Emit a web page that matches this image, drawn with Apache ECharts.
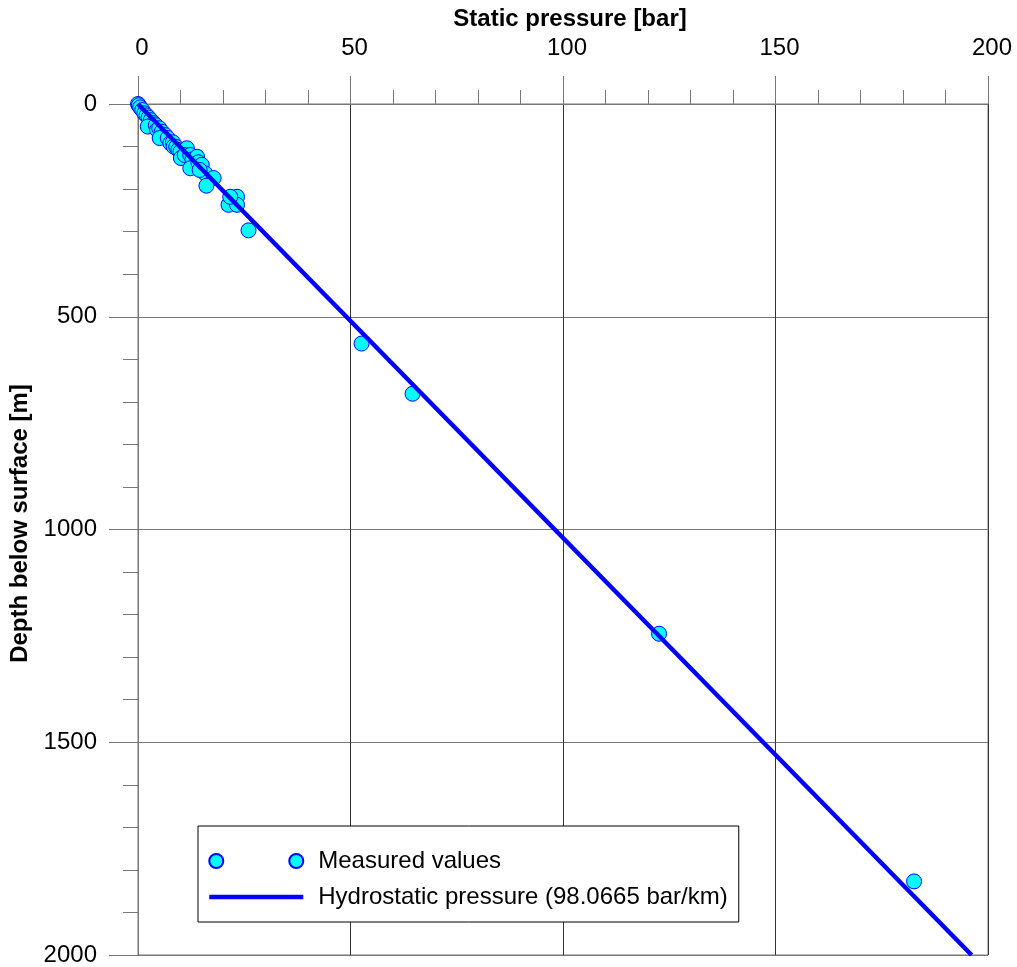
<!DOCTYPE html>
<html>
<head>
<meta charset="utf-8">
<script src="https://cdn.jsdelivr.net/npm/echarts@6/dist/echarts.min.js"></script>
<style>
html,body{margin:0;padding:0;background:#fff;}
#main{width:1017px;height:967px;}
</style>
</head>
<body>
<div id="main"></div>
<script>
// measured static pressure [bar] vs depth [m]
var pressure = [0, 0.2, 0.5, 1, 1.5, 2, 2.5, 3, 3.7, 2.3, 4.2, 4.5, 5, 5.6, 6.4, 5.1, 7, 7.6, 8.2, 8.4, 9, 9.5, 10, 11.5, 10.1, 11, 12.3, 12.8, 13.9, 12.3, 14.2, 15, 15.8, 14.5, 17.8, 16.1, 21.3, 23.3, 23.3, 21.7, 26, 52.6, 64.6, 122.6, 182.6]
var depth = [0, 3, 8, 14, 22, 27, 32, 38, 45, 53, 50, 61, 57, 65, 73, 80, 80, 92, 90, 100, 101, 108, 112, 104, 127, 120, 120, 130, 124, 151, 137, 143, 163, 155, 174, 192, 237, 218, 237, 218, 297, 563, 681, 1245, 1827]
// hydrostatic line 98.0665 bar/km
var linePressure = [0, 196.133]
var lineDepth = [0, 2000]
var xTicks = [0, 50, 100, 150, 200]
var yTicks = [0, 500, 1000, 1500, 2000]

var nameMeasured = 'Measured values'
var nameHydro = 'Hydrostatic pressure (98.0665 bar/km)'

var measuredData = []
for (var i = 0; i < pressure.length; i++) {
    measuredData.push([pressure[i], depth[i]])
}
var hydroData = []
for (var j = 0; j < linePressure.length; j++) {
    hydroData.push([linePressure[j], lineDepth[j]])
}

var axisGray = '#777'
var myChart = echarts.init(document.getElementById('main'))
var option = {
    animation: false,
    textStyle: {fontFamily: 'Liberation Sans, Arial, sans-serif'},
    grid: {
        left: 138, top: 104, right: 29, bottom: 11,
        show: true, borderColor: axisGray, borderWidth: 1
    },
    legend: {
        orient: 'vertical',
        left: 198, top: 826,
        padding: [23, 11, 13, 9],
        itemGap: 12,
        itemWidth: 94,
        itemHeight: 14,
        backgroundColor: '#fff',
        borderColor: '#000',
        borderWidth: 1,
        borderRadius: 0,
        textStyle: {fontSize: 24, color: '#000', padding: [0, 0, 0, 10]},
        data: [
            {name: nameMeasured, icon: 'path://M0,7A7,7 0 1,1 14,7A7,7 0 1,1 0,7Z M80,7A7,7 0 1,1 94,7A7,7 0 1,1 80,7Z'},
            {name: nameHydro, itemStyle: {opacity: 0, borderWidth: 0}, lineStyle: {width: 4.5, color: '#0000ff'}}
        ]
    },
    xAxis: {
        type: 'value',
        position: 'top',
        min: xTicks[0], max: xTicks[xTicks.length - 1], interval: 50,
        name: 'Static pressure [bar]',
        nameLocation: 'middle',
        nameGap: 73,
        nameTextStyle: {fontSize: 24, fontWeight: 'bold', color: '#000', padding: [0, 0, 0, 14]},
        axisLine: {show: true, lineStyle: {color: axisGray, width: 1}},
        axisTick: {show: true, length: 28, lineStyle: {color: axisGray}},
        minorTick: {show: true, splitNumber: 5, length: 14, lineStyle: {color: axisGray}},
        axisLabel: {fontSize: 24, color: '#000', margin: 44, padding: [0, 0, 0, 8], formatter: function (v) { return String(v) }},
        splitLine: {show: true, lineStyle: {color: '#333', width: 1}}
    },
    yAxis: {
        type: 'value',
        inverse: true,
        min: yTicks[0], max: yTicks[yTicks.length - 1], interval: 500,
        name: 'Depth below surface [m]',
        nameLocation: 'middle',
        nameGap: 86,
        nameTextStyle: {fontSize: 24, fontWeight: 'bold', color: '#000', padding: [0, 0, 0, 12]},
        axisLine: {show: true, lineStyle: {color: axisGray, width: 1}},
        axisTick: {show: true, length: 29, lineStyle: {color: axisGray}},
        minorTick: {show: true, splitNumber: 5, length: 15, lineStyle: {color: axisGray}},
        axisLabel: {fontSize: 24, color: '#000', margin: 41, formatter: function (v) { return String(v) }},
        splitLine: {show: true, lineStyle: {color: axisGray, width: 1}}
    },
    series: [
        {
            name: nameHydro,
            type: 'line',
            data: hydroData,
            symbol: 'none',
            clip: false,
            z: 3,
            lineStyle: {color: '#0000ff', width: 4.5},
            itemStyle: {color: '#0000ff'}
        },
        {
            name: nameMeasured,
            type: 'scatter',
            data: measuredData,
            symbol: 'circle',
            symbolSize: 15,
            clip: false,
            z: 2,
            itemStyle: {color: '#00ffff', borderColor: '#0000ff', borderWidth: 1, opacity: 1}
        }
    ]
}
myChart.setOption(option)
</script>
</body>
</html>
